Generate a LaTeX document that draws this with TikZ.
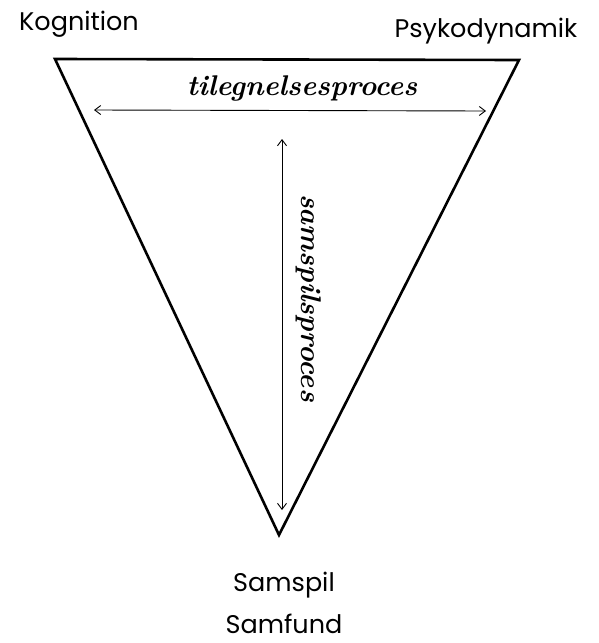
\documentclass[tikz,border=0pt]{standalone}
\usepackage{fontspec}
\newfontfamily\labelfont{Poppins}
\usetikzlibrary{arrows.meta}
\tikzset{
  lbl/.style={font=\labelfont\fontsize{25.5}{30}\selectfont, inner sep=0pt},
  proc/.style={font=\bfseries\itshape\fontsize{28.5}{32}\selectfont, inner sep=0pt},
  tri/.style={line width=2.6pt, line join=miter},
  dbl/.style={line width=0.9pt, {Straight Barb[length=6pt,width=9pt]}-{Straight Barb[length=6pt,width=9pt]}}
}
\begin{document}
\begin{tikzpicture}[x=1pt,y=-1pt]
\useasboundingbox (0,0) rectangle (599,643);
\coordinate (tl) at (55,59);
\coordinate (tr) at (519,60);
\coordinate (bt) at (279,535);
\draw[tri] (tl) -- (tr) -- (bt) -- cycle;
\node[lbl] (kog) at (79,24) {Kognition};
\node[lbl] (psy) at (486,31) {Psykodynamik};
\node[lbl] (sp) at (284,585) {Samspil};
\node[lbl] (sf) at (284,624) {Samfund};
\coordinate (hl) at (94,110);
\coordinate (hr) at (486,111);
\draw[dbl] (hl) -- (hr);
\node[proc] (til) at (302,88) {tilegnelsesproces};
\coordinate (vt) at (282,139);
\coordinate (vb) at (282,510);
\draw[dbl] (vt) -- (vb);
\node[proc, rotate=-90] (sam) at (309,298) {samspilsproces};
\end{tikzpicture}
\end{document}
